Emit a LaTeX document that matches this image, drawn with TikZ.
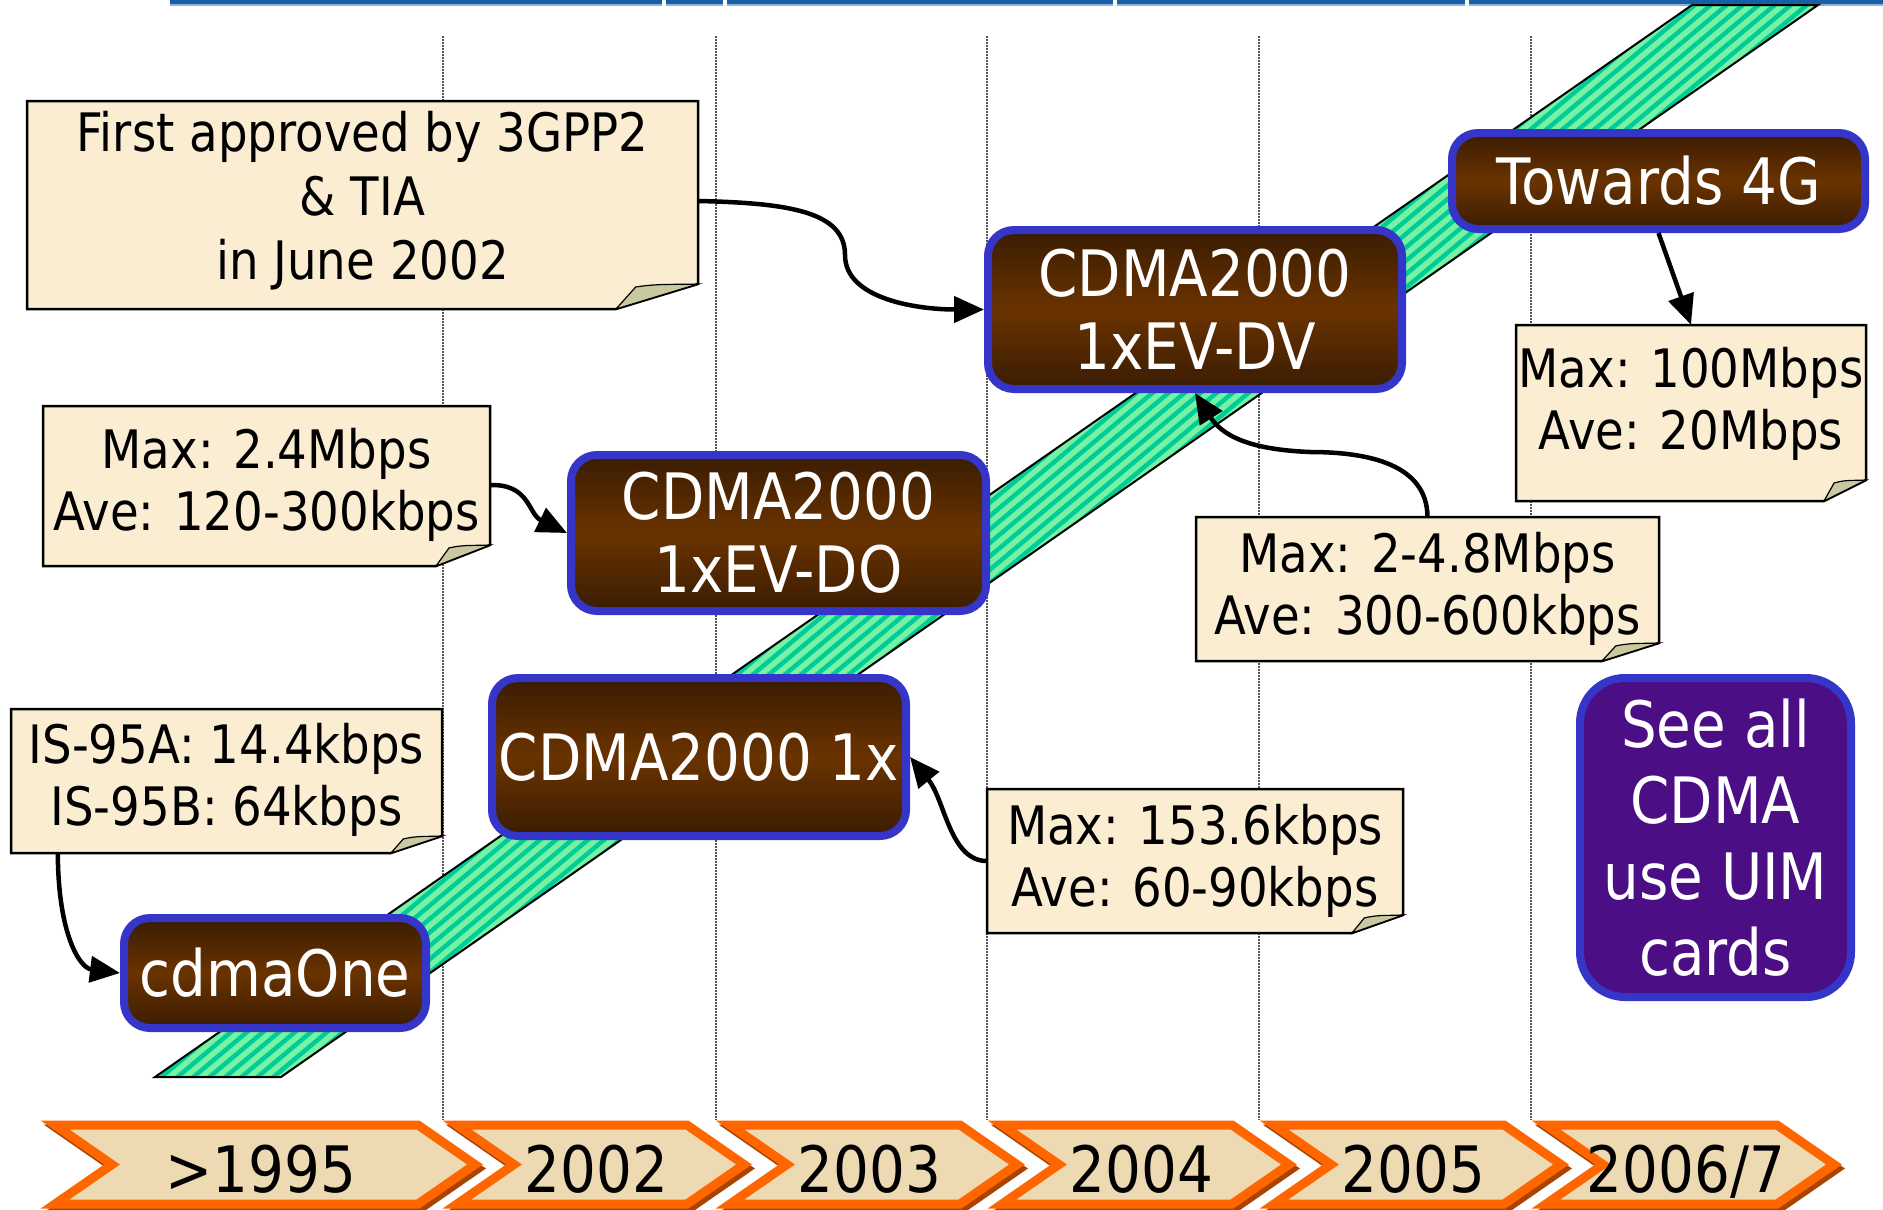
\documentclass[tikz,border=0pt]{standalone}
\usepackage{fontspec}
\setmainfont{DejaVu Sans}[FakeStretch=0.88]
\usetikzlibrary{arrows.meta,calc}
\definecolor{brD}{HTML}{3A1C02}
\definecolor{brL}{HTML}{6A3300}
\definecolor{bluB}{HTML}{3535C8}
\definecolor{noteF}{HTML}{FAEDD2}
\definecolor{foldF}{HTML}{C9C9A1}
\definecolor{bandF}{HTML}{00CC99}
\definecolor{stripeC}{HTML}{77F2A2}
\definecolor{chevF}{HTML}{EEDAB2}
\definecolor{chevO}{HTML}{FF6600}
\definecolor{chevS}{HTML}{A84300}
\definecolor{chevH}{HTML}{FFAA70}
\definecolor{topB}{HTML}{1A5FA6}
\definecolor{topL}{HTML}{86B4DE}
\definecolor{purp}{HTML}{4C0E84}
\definecolor{gridC}{HTML}{555555}
\newcommand\notebox[6]{%
  \fill[noteF] (#1,#2) -- (#3,#2) -- (#3,#6) -- (#5,#4) -- (#1,#4) -- cycle;
  \draw[line width=2.5pt, line join=miter] (#1,#2) -- (#3,#2) -- (#3,#6) -- (#5,#4) -- (#1,#4) -- cycle;
  \filldraw[fill=foldF, draw=black, line width=1.2pt] (#5,#4) -- ({#5+0.24*(#3-#5)},{#6+3}) .. controls ({#5+0.55*(#3-#5)},{#6-1}) and ({#5+0.8*(#3-#5)},{#6+1}) .. (#3,#6) -- cycle;
}
\begin{document}
\begin{tikzpicture}[x=1pt,y=-1pt,
  brownbox/.style={draw=bluB, line width=8pt, rounded corners=26pt, top color=brD, bottom color=brD, middle color=brL, text=white, align=center, inner sep=0pt, font=\fontsize{64}{73}\selectfont},
  purplebox/.style={draw=bluB, line width=8pt, rounded corners=45pt, fill=purp, text=white, align=center, inner sep=0pt, font=\fontsize{64}{76}\selectfont},
  notetext/.style={inner sep=0pt, align=center, font=\fontsize{53}{62}\selectfont},
  yeartext/.style={inner sep=0pt, text height=47pt, text depth=0pt, font=\fontsize{64}{70}\selectfont},
  conn/.style={line width=4.5pt, draw=black, -{Triangle[length=30pt,width=26pt]}},
  gridline/.style={gridC, line width=1.2pt, dash pattern=on 1.5pt off 1.5pt},
  stripe/.style={line width=5.5pt, stripeC},
  chevst/.style={fill=chevF, draw=chevO, line width=9pt, line join=miter},
  chevsh/.style={draw=chevS, line width=9pt, line join=miter}]
\useasboundingbox[fill=white] (0,0) rectangle (1883,1210);
% top bar
\foreach \a/\b in {170/662,666/723,727/1113,1117/1465,1469/1883}{
  \fill[topB] (\a,0) rectangle (\b,4);
  \fill[topL] (\a,4) rectangle (\b,5.5);
}
% grid lines
\foreach \x in {443,716,987,1259,1531} \draw[gridline] (\x,36) -- (\x,1120);
% band
\begin{scope}
  \clip (155,1077) -- (281,1077) -- (1818,5) -- (1692,5) -- cycle;
  \fill[bandF] (0,0) rectangle (1883,1210);
  \foreach \s in {-1250,-1234,...,1850} \draw[stripe] (\s,1100) -- ++(1350,-1133);
\end{scope}
\draw[line width=2pt, line join=miter] (155,1077) -- (281,1077) -- (1818,5) -- (1692,5) -- cycle;
% chevrons
\foreach \a/\b/\t/\n in {50/480/{>1995}/y1, 452/749/2002/y2, 725/1022/2003/y3, 997/1294/2004/y4, 1269/1566/2005/y5, 1541/1839/2006\slash 7/y6}{
  \draw[chevsh, shift={(3,4)}] ({\a+5},1125) -- ({\b-62},1125) -- ({\b-5},1164.5) -- ({\b-62},1204) -- ({\a+5},1204) -- ({\a+62},1164.5) -- cycle;
  \draw[chevH, line width=4pt, shift={(-3,3)}] ({\a+62},1164.5) -- ({\a+5},1204);
  \draw[chevst] ({\a+5},1125) -- ({\b-62},1125) -- ({\b-5},1164.5) -- ({\b-62},1204) -- ({\a+5},1204) -- ({\a+62},1164.5) -- cycle;
  \node[yeartext] (\n) at ({(\a+\b)/2-4},1169) {\t};
}
% notes
\notebox{27}{101}{698}{309}{616}{284}
\node[notetext, font=\fontsize{53}{64}\selectfont, minimum width=671pt, minimum height=190pt] (n1) at (362.5,201) {First approved by 3GPP2\\\& TIA\\in June 2002};
\notebox{43}{406}{490}{566}{436}{545}
\node[notetext, minimum width=447pt, minimum height=160pt] (n2) at (266.5,485) {Max: 2.4Mbps\\Ave: 120-300kbps};
\notebox{11}{709}{442}{853}{391}{836}
\node[notetext, minimum width=431pt, minimum height=144pt] (n3) at (226.5,780) {IS-95A: 14.4kbps\\IS-95B: 64kbps};
\notebox{987}{789}{1403}{933}{1352}{915}
\node[notetext, minimum width=416pt, minimum height=144pt] (n4) at (1195,861) {Max: 153.6kbps\\Ave: 60-90kbps};
\notebox{1196}{517}{1659}{661}{1602}{643}
\node[notetext, minimum width=463pt, minimum height=144pt] (n5) at (1427.5,589) {Max: 2-4.8Mbps\\Ave: 300-600kbps};
\notebox{1516}{325}{1866}{501}{1824}{480}
\node[notetext, minimum width=350pt, minimum height=158pt] (n6) at (1691,404) {Max: 100Mbps\\Ave: 20Mbps};
% technology boxes
\node[brownbox, minimum width=302pt, minimum height=110pt] (a) at (275,973) {cdmaOne};
\node[brownbox, minimum width=414pt, minimum height=158pt] (b) at (699,757) {CDMA2000 1x};
\node[brownbox, minimum width=415pt, minimum height=156pt] (c) at (778.5,533) {CDMA2000\\1xEV-DO};
\node[brownbox, minimum width=414pt, minimum height=159pt] (d) at (1195,309.5) {CDMA2000\\1xEV-DV};
\node[brownbox, minimum width=413pt, minimum height=96pt] (e) at (1658.5,181) {Towards 4G};
\node[purplebox, minimum width=271pt, minimum height=319pt] (f) at (1715.5,837.5) {See all\\CDMA\\use UIM\\cards};
% connectors
\draw[conn] (n1.east) .. controls (790,203) and (845,212) .. (845,255) .. controls (845,300) and (920,309.5) .. (d.west);
\draw[conn] (n2.east) .. controls (530,484) and (528,514) .. (c.west);
\draw[conn] ([xshift=47pt]n3.south west) .. controls (58,935) and (80,968) .. (a.west);
\draw[conn] (n4.west) .. controls (950,861) and (945,800) .. (b.east);
\draw[conn] (n5.north) .. controls (1427,465) and (1370,452) .. (1310,452) .. controls (1260,450) and (1225,440) .. (d.south);
\draw[conn] (e.south) -- (n6.north);
\end{tikzpicture}
\end{document}
